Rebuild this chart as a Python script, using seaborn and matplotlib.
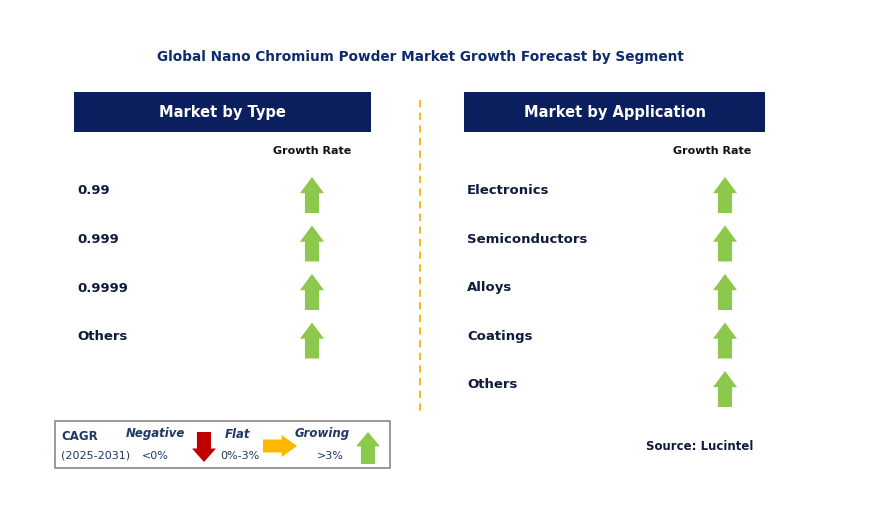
import matplotlib
matplotlib.use("Agg")
import matplotlib.pyplot as plt
import seaborn as sns
from matplotlib.patches import Polygon, Rectangle

sns.set_theme(style="white")

title = "Global Nano Chromium Powder Market Growth Forecast by Segment"
type_labels = ["0.99", "0.999", "0.9999", "Others"]
type_growth = ["up", "up", "up", "up"]
app_labels = ["Electronics", "Semiconductors", "Alloys", "Coatings", "Others"]
app_growth = ["up", "up", "up", "up", "up"]

navy = "#0B1F5E"
green = "#8CC84B"
red = "#C00000"
amber = "#FFB800"

fig = plt.figure(figsize=(8.72, 5.16), dpi=100)
ax = fig.add_axes([0, 0, 1, 1])
ax.set_xlim(0, 872)
ax.set_ylim(516, 0)
ax.axis("off")


def arrow(x, y, kind, w=24, h=36, color=None):
    # y is the centre; shape drawn as polygon
    hw, sw = w / 2, w / 3.4
    head = h * 0.45
    if kind == "up":
        pts = [(x, y - h / 2), (x + hw, y - h / 2 + head), (x + sw, y - h / 2 + head),
               (x + sw, y + h / 2), (x - sw, y + h / 2), (x - sw, y - h / 2 + head),
               (x - hw, y - h / 2 + head)]
        c = color or green
    elif kind == "down":
        pts = [(x, y + h / 2), (x + hw, y + h / 2 - head), (x + sw, y + h / 2 - head),
               (x + sw, y - h / 2), (x - sw, y - h / 2), (x - sw, y + h / 2 - head),
               (x - hw, y + h / 2 - head)]
        c = color or red
    else:
        pts = [(x + h / 2, y), (x + h / 2 - head, y - hw), (x + h / 2 - head, y - sw),
               (x - h / 2, y - sw), (x - h / 2, y + sw), (x + h / 2 - head, y + sw),
               (x + h / 2 - head, y + hw)]
        c = color or amber
    ax.add_patch(Polygon(pts, closed=True, color=c, lw=0))


ax.text(420, 57, title, ha="center", va="center", fontsize=9.8, fontweight="bold", color="#0D2A6B")

panels = [(74, 371, 312, 77, "Market by Type", type_labels, type_growth),
          (464, 765, 725, 467, "Market by Application", app_labels, app_growth)]
for x0, x1, ax_x, lx, head, labels, growth in panels:
    ax.add_patch(Rectangle((x0, 92), x1 - x0, 40, color=navy, lw=0))
    ax.text((x0 + x1) / 2, 112, head, ha="center", va="center", color="white",
            fontsize=10.5, fontweight="bold")
    ax.text(ax_x - 13 if lx > 400 else ax_x, 151, "Growth Rate", ha="center", va="center", fontsize=8,
            fontweight="bold", color="#111111")
    for i, (lab, g) in enumerate(zip(labels, growth)):
        y = 191 + i * 48.5
        ax.text(lx, y, lab, ha="left", va="center", fontsize=9.5, fontweight="bold", color="#0F1B3D")
        arrow(ax_x, y + 4, g)

ax.plot([420, 420], [100, 412], ls=(0, (4, 3)), color="#F5B400", lw=1.3)

# legend box
ax.add_patch(Rectangle((55, 421), 335, 47, fill=False, ec="#888888", lw=1.2))
ax.text(61, 436, "CAGR", fontsize=8.5, fontweight="bold", color="#1F3864", va="center")
ax.text(61, 455, "(2025-2031)", fontsize=8, color="#1F3864", va="center")
ax.text(155, 434, "Negative", fontsize=8.5, fontweight="bold", style="italic", color="#1F3864", ha="center", va="center")
ax.text(155, 456, "<0%", fontsize=8, color="#1F3864", ha="center", va="center")
arrow(204, 447, "down", w=24, h=30)
ax.text(237, 434, "Flat", fontsize=8.5, fontweight="bold", style="italic", color="#1F3864", ha="center", va="center")
ax.text(240, 456, "0%-3%", fontsize=8, color="#1F3864", ha="center", va="center")
arrow(280, 446, "flat", w=22, h=34)
ax.text(322, 434, "Growing", fontsize=8.5, fontweight="bold", style="italic", color="#1F3864", ha="center", va="center")
ax.text(330, 456, ">3%", fontsize=8, color="#1F3864", ha="center", va="center")
arrow(368, 448, "up", w=24, h=32)

ax.text(700, 447, "Source: Lucintel", ha="center", va="center", fontsize=8.5, fontweight="bold", color="#0F1B3D")

fig.savefig("out.png", dpi=100, facecolor="white")
